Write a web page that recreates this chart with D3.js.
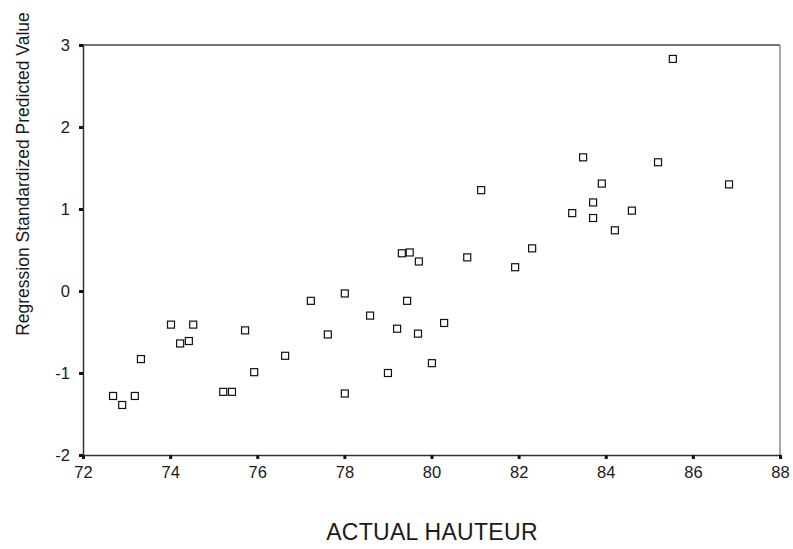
<!DOCTYPE html>
<html>
<head>
<meta charset="utf-8">
<script src="https://cdn.jsdelivr.net/npm/d3@7"></script>
<style>
  body { margin: 0; background: #fff; }
  text { font-family: "Liberation Sans", Arial, sans-serif; fill: #1a1a1a; }
</style>
</head>
<body>
<div id="chart"></div>
<script>
const width = 793, height = 549;
const margin = {top: 45, right: 13, bottom: 94, left: 83};

// actual hauteur (x) vs standardized predicted value (y)
const hauteur = [
  72.69, 72.9, 73.19, 73.33, 74.02, 74.53, 74.23, 74.43, 75.22, 75.42,
  75.72, 75.93, 76.64, 77.23, 77.62, 78.01, 78.01, 78.59, 79.0, 79.21,
  79.44, 79.32, 79.5, 79.71, 79.69, 80.01, 80.29, 80.82, 81.14, 82.31,
  81.92, 83.91, 83.71, 83.23, 83.71, 84.6, 84.21, 83.48, 85.2, 85.54, 86.83
];
const predicted = [
  -1.28, -1.39, -1.28, -0.83, -0.41, -0.41, -0.64, -0.61, -1.23, -1.23,
  -0.48, -0.99, -0.79, -0.12, -0.53, -0.03, -1.25, -0.30, -1.0, -0.46,
  -0.12, 0.46, 0.47, 0.36, -0.52, -0.88, -0.39, 0.41, 1.23, 0.52,
  0.29, 1.31, 1.08, 0.95, 0.89, 0.98, 0.74, 1.63, 1.57, 2.83, 1.30
];
const xTicks = [72, 74, 76, 78, 80, 82, 84, 86, 88];
const yTicks = [-2, -1, 0, 1, 2, 3];

const points = hauteur.map((h, i) => ({x: h, y: predicted[i]}));

const svg = d3.select("#chart")
  .append("svg")
    .attr("width", width)
    .attr("height", height);

const x = d3.scaleLinear()
  .domain([72, 88])
  .range([margin.left, width - margin.right]);

const y = d3.scaleLinear()
  .domain([-2, 3])
  .range([height - margin.bottom, margin.top]);

// frame
svg.append("line")
  .attr("x1", x(72)).attr("x2", x(88))
  .attr("y1", y(3)).attr("y2", y(3))
  .attr("stroke", "#444").attr("stroke-width", 1.5);
svg.append("line")
  .attr("x1", x(88)).attr("x2", x(88))
  .attr("y1", y(3)).attr("y2", y(-2))
  .attr("stroke", "#888").attr("stroke-width", 1.5);

// axes
const xAxis = svg.append("g")
  .attr("transform", "translate(0," + y(-2) + ")")
  .call(d3.axisBottom(x).tickValues(xTicks).tickSize(4).tickPadding(7)
    .tickFormat(d => String(d)));
const yAxis = svg.append("g")
  .attr("transform", "translate(" + x(72) + ",0)")
  .call(d3.axisLeft(y).tickValues(yTicks).tickSize(4).tickPadding(9)
    .tickFormat(d => String(d)));

[xAxis, yAxis].forEach(g => {
  g.select(".domain").attr("stroke", "#333").attr("stroke-width", 1.5);
  g.selectAll(".tick line").attr("stroke", "#111").attr("stroke-width", 3);
  g.selectAll(".tick text").style("font-size", "16.5px").attr("fill", "#1a1a1a");
});

// points
svg.append("g")
  .selectAll("rect")
  .data(points)
  .enter()
  .append("rect")
    .attr("x", d => x(d.x) - 3.5)
    .attr("y", d => y(d.y) - 3.5)
    .attr("width", 7)
    .attr("height", 7)
    .attr("fill", "none")
    .attr("stroke", "#111")
    .attr("stroke-width", 1.2);

// labels
svg.append("text")
  .attr("x", 432)
  .attr("y", 540)
  .attr("text-anchor", "middle")
  .style("font-size", "23px")
  .style("letter-spacing", "0.3px")
  .text("ACTUAL HAUTEUR");

svg.append("text")
  .attr("transform", "translate(29,174) rotate(-90)")
  .attr("text-anchor", "middle")
  .style("font-size", "17.5px")
  .text("Regression Standardized Predicted Value");
</script>
</body>
</html>
